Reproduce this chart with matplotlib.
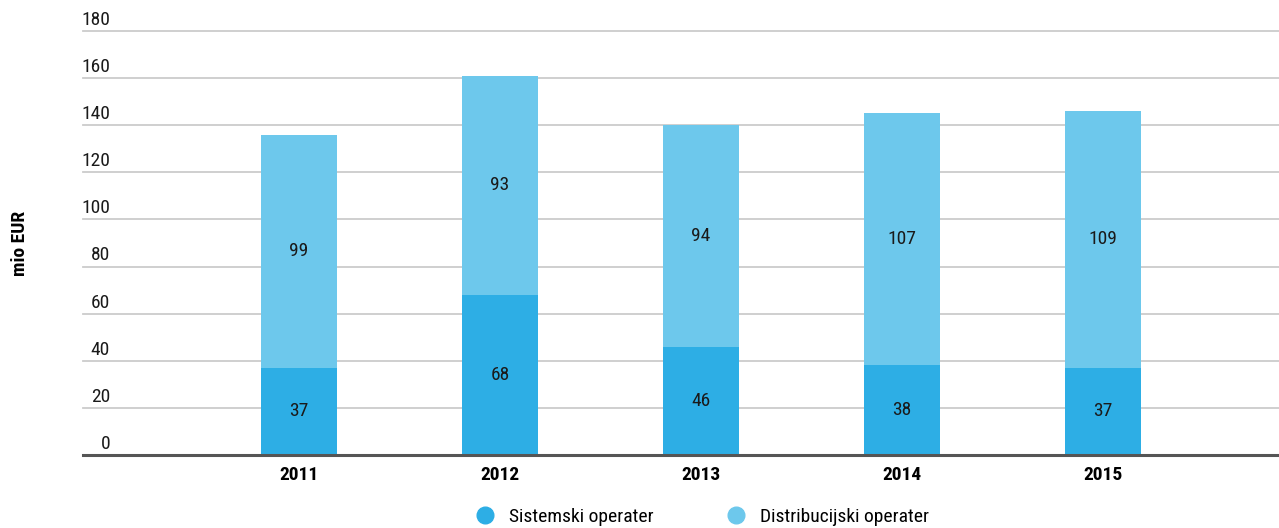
import matplotlib
matplotlib.use("Agg")
import matplotlib.pyplot as plt
from matplotlib.lines import Line2D

years = ["2011", "2012", "2013", "2014", "2015"]
sistemski = [37, 68, 46, 38, 37]
distribucijski = [99, 93, 94, 107, 109]
yticks = [0, 20, 40, 60, 80, 100, 120, 140, 160, 180]

dark = "#2daee5"
light = "#6dc8ec"

plt.rcParams["font.family"] = ["Roboto Condensed", "DejaVu Sans"]

fig = plt.figure(figsize=(12.79, 5.28), dpi=100)
ax = fig.add_axes([83 / 1279, 1 - 455 / 528, 1 - 83 / 1279, (455 - 31) / 528])

x = list(range(len(years)))
w = 0.378
ax.bar(x, sistemski, width=w, color=dark, zorder=3)
ax.bar(x, distribucijski, width=w, bottom=sistemski, color=light, zorder=3)

for i in x:
    ax.text(i, sistemski[i] / 2, str(sistemski[i]), ha="center", va="center",
            fontsize=14, color="#1a1a1a", zorder=4)
    ax.text(i, sistemski[i] + distribucijski[i] / 2, str(distribucijski[i]),
            ha="center", va="center", fontsize=14, color="#1a1a1a", zorder=4)

ax.set_xlim(-1.075, 4.876)
ax.set_ylim(0, 180)

# gridlines, with the y labels sitting just above them
for t in yticks:
    if t == 0:
        ax.axhline(t, color="#555555", lw=2.2, zorder=5, clip_on=False)
    else:
        ax.axhline(t, color="#cccccc", lw=1.3, zorder=1, clip_on=False)
    ax.annotate(str(t), xy=(27 / 1196, t), xycoords=("axes fraction", "data"),
                xytext=(0, 1.5), textcoords="offset points",
                ha="right", va="bottom", fontsize=14, color="#1a1a1a")

ax.set_yticks([])
ax.set_xticks(x)
ax.set_xticklabels(years, fontsize=14, fontweight="bold")
ax.tick_params(axis="x", length=0, pad=8)
for s in ax.spines.values():
    s.set_visible(False)

fig.text(20 / 1279, 1 - 243 / 528, "mio EUR", rotation=90, ha="center", va="center",
         fontsize=14, fontweight="bold")

handles = [
    Line2D([], [], marker="o", ls="", markersize=12, color=dark, label="Sistemski operater"),
    Line2D([], [], marker="o", ls="", markersize=12, color=light, label="Distribucijski operater"),
]
fig.legend(handles=handles, loc="center", bbox_to_anchor=(702 / 1279, 1 - 517 / 528),
           ncol=2, frameon=False, fontsize=14, columnspacing=3.7,
           handlelength=1.0, handletextpad=0.75)

fig.savefig("out.png", dpi=100)
